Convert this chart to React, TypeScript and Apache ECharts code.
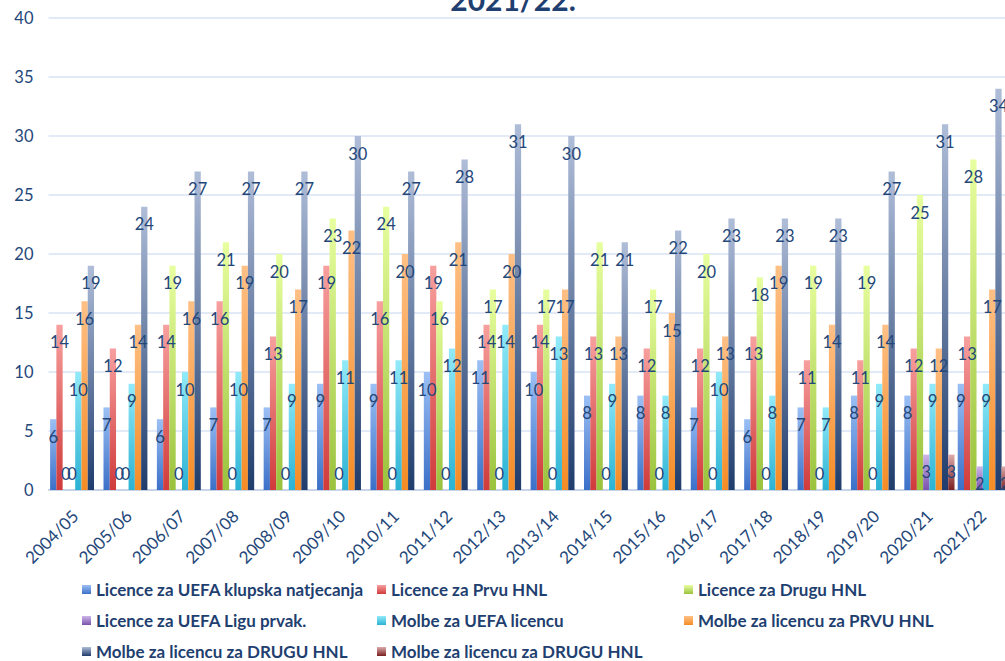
import React, { useEffect, useRef } from "react";
import * as echarts from "echarts";

const categories = [
  "2004/05", "2005/06", "2006/07", "2007/08", "2008/09", "2009/10",
  "2010/11", "2011/12", "2012/13", "2013/14", "2014/15", "2015/16",
  "2016/17", "2017/18", "2018/19", "2019/20", "2020/21", "2021/22",
];

const licUefa = [6, 7, 6, 7, 7, 9, 9, 10, 11, 10, 8, 8, 7, 6, 7, 8, 8, 9];
const licPrva = [14, 12, 14, 16, 13, 19, 16, 19, 14, 14, 13, 12, 12, 13, 11, 11, 12, 13];
const licDruga = [0, 0, 19, 21, 20, 23, 24, 16, 17, 17, 21, 17, 20, 18, 19, 19, 25, 28];
const licLigaPrvak = [0, 0, 0, 0, 0, 0, 0, 0, 0, 0, 0, 0, 0, 0, 0, 0, 3, 2];
const molbeUefa = [10, 9, 10, 10, 9, 11, 11, 12, 14, 13, 9, 8, 10, 8, 7, 9, 9, 9];
const molbePrva = [16, 14, 16, 19, 17, 22, 20, 21, 20, 17, 13, 15, 13, 19, 14, 14, 12, 17];
const molbeDruga = [19, 24, 27, 27, 27, 30, 27, 28, 31, 30, 21, 22, 23, 23, 23, 27, 31, 34];
const molbeDruga2 = [null, null, null, null, null, null, null, null, null, null, null, null, null, null, null, null, 3, 2];

const seriesNames = [
  "Licence za UEFA klupska natjecanja",
  "Licence za Prvu HNL",
  "Licence za Drugu HNL",
  "Licence za UEFA Ligu prvak.",
  "Molbe za UEFA licencu",
  "Molbe za licencu za PRVU HNL",
  "Molbe za licencu za DRUGU HNL",
  "Molbe za licencu za DRUGU HNL ",
];

const seriesData = [licUefa, licPrva, licDruga, licLigaPrvak, molbeUefa, molbePrva, molbeDruga, molbeDruga2];

const gradients: [string, string][] = [
  ["#9CC0F5", "#3B70C8"],
  ["#F7A09F", "#D03A3A"],
  ["#E8FFA0", "#9AC23C"],
  ["#CDB6EA", "#7A52AC"],
  ["#92EAF9", "#2BB2D3"],
  ["#FFC086", "#F58C25"],
  ["#AFBDD8", "#1F3C6C"],
  ["#DDAAAA", "#7A2020"],
];

const textColor = "#24477A";
const fontFamily = "Lato, 'Open Sans', sans-serif";

const legendPos = [
  [82, 581], [377, 581], [684, 581],
  [82, 612], [377, 612], [684, 612],
  [82, 643], [377, 643],
];

export default function App() {
  const ref = useRef<HTMLDivElement>(null);
  useEffect(() => {
    if (!ref.current) return;
    const chart = echarts.init(ref.current, undefined, { renderer: "svg" });
    const grad = (g: [string, string]) =>
      new echarts.graphic.LinearGradient(0, 0, 0, 1, [
        { offset: 0, color: g[0] },
        { offset: 1, color: g[1] },
      ]);
    const series = seriesNames.map((name, i) => ({
      name,
      type: "bar",
      barGap: "0%",
      barCategoryGap: "6%",
      itemStyle: { color: grad(gradients[i]) },
      label: {
        show: true,
        position: "insideTop",
        distance: 9,
        color: textColor,
        fontSize: 16.5,
        fontFamily,
      },
      data: seriesData[i].map((v) =>
        v === 0
          ? { value: 0, label: { position: "top", distance: 8 } }
          : v
      ),
    }));
    const legends = seriesNames.map((name, i) => ({
      data: [name],
      left: legendPos[i][0],
      top: legendPos[i][1],
      orient: "horizontal",
      itemWidth: 9,
      itemHeight: 9,
      itemGap: 5,
      padding: 0,
      icon: "rect",
      formatter: (n: string) => n.trim(),
      textStyle: {
        color: "#1F3F70",
        fontSize: 17,
        fontWeight: "bold",
        fontFamily,
      },
    }));
    chart.setOption({
      animation: false,
      backgroundColor: "#ffffff",
      grid: { left: 48.5, top: 18, width: 961, bottom: 171, containLabel: false },
      xAxis: {
        type: "category",
        data: categories,
        axisTick: { show: false },
        axisLine: { show: true, lineStyle: { color: "#BFCDE2", width: 1.5 } },
        axisLabel: {
          rotate: 45,
          margin: 23,
          interval: 0,
          color: textColor,
          fontSize: 17,
          fontFamily,
        },
      },
      yAxis: {
        type: "value",
        min: 0,
        max: 40,
        interval: 5,
        axisLine: { show: false },
        axisTick: { show: false },
        splitLine: { lineStyle: { color: "#D7E3F3", width: 1.5 } },
        axisLabel: { color: textColor, fontSize: 16.5, fontFamily, margin: 15 },
      },
      legend: legends,
      graphic: [
        {
          type: "text",
          x: 513,
          y: -1,
          style: {
            text: "2021/22.",
            fill: "#1F3F70",
            font: "bold 30px Lato, 'Open Sans', sans-serif",
            align: "center",
            verticalAlign: "middle",
          },
        },
      ],
      series,
    });
    return () => chart.dispose();
  }, []);
  return (
    <div style={{ position: "fixed", left: 0, top: 0, width: 1005, height: 661, overflow: "hidden", background: "#fff" }}>
      <div ref={ref} style={{ width: 1020, height: 661 }} />
    </div>
  );
}
